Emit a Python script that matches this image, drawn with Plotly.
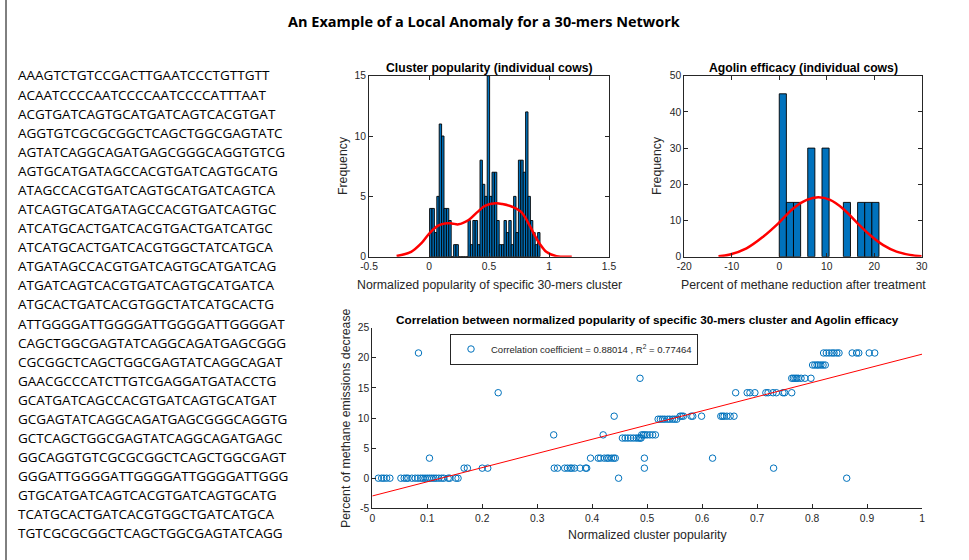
import plotly.graph_objects as go

W, H = 969, 560

# ---------------- data ----------------
dna_lines = [
    "AAAGTCTGTCCGACTTGAATCCCTGTTGTT",
    "ACAATCCCCAATCCCCAATCCCCATTTAAT",
    "ACGTGATCAGTGCATGATCAGTCACGTGAT",
    "AGGTGTCGCGCGGCTCAGCTGGCGAGTATC",
    "AGTATCAGGCAGATGAGCGGGCAGGTGTCG",
    "AGTGCATGATAGCCACGTGATCAGTGCATG",
    "ATAGCCACGTGATCAGTGCATGATCAGTCA",
    "ATCAGTGCATGATAGCCACGTGATCAGTGC",
    "ATCATGCACTGATCACGTGACTGATCATGC",
    "ATCATGCACTGATCACGTGGCTATCATGCA",
    "ATGATAGCCACGTGATCAGTGCATGATCAG",
    "ATGATCAGTCACGTGATCAGTGCATGATCA",
    "ATGCACTGATCACGTGGCTATCATGCACTG",
    "ATTGGGGATTGGGGATTGGGGATTGGGGAT",
    "CAGCTGGCGAGTATCAGGCAGATGAGCGGG",
    "CGCGGCTCAGCTGGCGAGTATCAGGCAGAT",
    "GAACGCCCATCTTGTCGAGGATGATACCTG",
    "GCATGATCAGCCACGTGATCAGTGCATGAT",
    "GCGAGTATCAGGCAGATGAGCGGGCAGGTG",
    "GCTCAGCTGGCGAGTATCAGGCAGATGAGC",
    "GGCAGGTGTCGCGCGGCTCAGCTGGCGAGT",
    "GGGATTGGGGATTGGGGATTGGGGATTGGG",
    "GTGCATGATCAGTCACGTGATCAGTGCATG",
    "TCATGCACTGATCACGTGGCTGATCATGCA",
    "TGTCGCGCGGCTCAGCTGGCGAGTATCAGG",
]

# Panel 1: cluster popularity histogram (bin width 0.02, first edge 0.005)
pop_bin_start = 0.005
pop_bin_width = 0.02
pop_counts = [4, 4, 2, 5, 11, 10, 4, 4, 3, 0, 1, 1, 0, 0, 0, 0,
              3, 1, 3, 3, 1, 8, 6, 5, 15, 5, 7, 7, 3, 1, 1, 3,
              2, 3, 1, 5, 2, 8, 8, 7, 12, 5, 3, 2, 1, 2]
pop_kde_x = [-0.27, -0.149, -0.065, 0.0, 0.076, 0.132, 0.189, 0.245, 0.33, 0.40,
             0.47, 0.555, 0.611, 0.693, 0.766, 0.837, 0.879, 0.921, 0.977, 1.062, 1.19]
pop_kde_y = [0.05, 0.4, 1.1, 1.9, 2.57, 2.76, 2.76, 2.68, 3.04, 3.67,
             4.23, 4.42, 4.36, 4.14, 3.73, 2.62, 1.8, 1.1, 0.41, 0.05, 0.0]
pop_xticks = [-0.5, 0, 0.5, 1, 1.5]
pop_xticklabels = ["-0.5", "0", "0.5", "1", "1.5"]
pop_yticks = [0, 5, 10, 15]

# Panel 2: Agolin efficacy histogram (bin width 1.5)
ago_bin_left = [0, 1.5, 3, 6, 9, 13.5, 16.5, 18, 19.5]
ago_bin_width = 1.5
ago_counts = [45, 15, 15, 30, 30, 15, 15, 15, 15]
ago_fit_x = [-12.8, -10.4, -6.9, -3.4, -0.2, 3.0, 5.8, 8.2, 10.7, 13.5, 16.3, 19.1, 21.9, 24.7, 27.5, 30.0]
ago_fit_y = [0.1, 0.6, 2.3, 5.5, 9.2, 13.4, 15.7, 16.4, 15.7, 13.2, 9.5, 6.0, 3.2, 1.4, 0.5, 0.1]
ago_xticks = [-20, -10, 0, 10, 20, 30]
ago_xticklabels = ["-20", "-10", "0", "10", "20", "30"]
ago_yticks = [0, 10, 20, 30, 40, 50]

# Panel 3: correlation scatter, grouped by methane-decrease level
sc_levels = [0, 1.67, 3.33, 6.67, 7.2, 9.8, 10.3, 14.2, 16.6, 18.8, 20.8]
sc_x_by_level = [
    [0.011, 0.017, 0.021, 0.026, 0.032, 0.052, 0.058, 0.062, 0.065, 0.072, 0.078, 0.083,
     0.088, 0.092, 0.096, 0.100, 0.104, 0.108, 0.112, 0.116, 0.121, 0.126, 0.130, 0.138,
     0.141, 0.152, 0.156, 0.448, 0.863],
    [0.167, 0.173, 0.200, 0.210, 0.331, 0.337, 0.350, 0.355, 0.360, 0.363, 0.368, 0.378,
     0.388, 0.390, 0.495, 0.730],
    [0.104, 0.397, 0.411, 0.415, 0.422, 0.427, 0.430, 0.435, 0.439, 0.442, 0.495, 0.619],
    [0.455, 0.460, 0.465, 0.470, 0.475, 0.480, 0.484, 0.487, 0.489],
    [0.330, 0.420, 0.490, 0.493, 0.496, 0.500, 0.505, 0.510, 0.515],
    [0.520, 0.524, 0.528, 0.532, 0.537, 0.541, 0.546, 0.550, 0.554],
    [0.440, 0.560, 0.563, 0.566, 0.580, 0.583, 0.599, 0.634, 0.637, 0.640, 0.645, 0.651, 0.658],
    [0.229, 0.661, 0.682, 0.687, 0.696, 0.716, 0.720, 0.729, 0.735, 0.747, 0.750, 0.763],
    [0.487, 0.763, 0.766, 0.769, 0.772, 0.775, 0.780, 0.787, 0.798],
    [0.801, 0.805, 0.809, 0.812, 0.816, 0.820, 0.824],
    [0.084, 0.821, 0.826, 0.831, 0.836, 0.840, 0.845, 0.849, 0.873, 0.881, 0.885, 0.904, 0.914],
]
fit_x = [0.0, 1.0]
fit_y = [-2.95, 20.6]
sc_yticks = [-5, 0, 5, 10, 15, 20, 25]
sc_yticklabels = ["-5", "0", "5", "10", "15", "20", "25"]
legend_text = "Correlation coefficient = 0.88014 , R<sup>2</sup> = 0.77464"

# ---------------- figure ----------------
BLUE = "#0072BD"
AX = "#262626"
TICKFONT = dict(family="Liberation Sans, Arial", size=10.3, color=AX)
LABFONT = dict(family="Liberation Sans, Arial", size=12.3, color=AX)
TITFONT = dict(family="Liberation Sans, Arial", size=12.2, color="#000000")
TITFONT3 = dict(family="Liberation Sans, Arial", size=11.8, color="#000000")

fig = go.Figure()

pop_centers = [pop_bin_start + pop_bin_width * (i + 0.5) for i in range(len(pop_counts))]
fig.add_trace(go.Bar(x=pop_centers, y=pop_counts, width=pop_bin_width,
                     marker=dict(color=BLUE, line=dict(color="#000000", width=0.9)),
                     xaxis="x", yaxis="y", showlegend=False, hoverinfo="skip"))
fig.add_trace(go.Scatter(x=pop_kde_x, y=pop_kde_y, mode="lines",
                         line=dict(color="#FF0000", width=2.5, shape="spline"),
                         xaxis="x", yaxis="y", showlegend=False))

ago_centers = [l + ago_bin_width / 2 for l in ago_bin_left]
fig.add_trace(go.Bar(x=ago_centers, y=ago_counts, width=ago_bin_width,
                     marker=dict(color=BLUE, line=dict(color="#000000", width=0.9)),
                     xaxis="x2", yaxis="y2", showlegend=False))
fig.add_trace(go.Scatter(x=ago_fit_x, y=ago_fit_y, mode="lines",
                         line=dict(color="#FF0000", width=2.5, shape="spline"),
                         xaxis="x2", yaxis="y2", showlegend=False))

sc_x, sc_y = [], []
for lvl, xs in zip(sc_levels, sc_x_by_level):
    for xv in xs:
        sc_x.append(xv)
        sc_y.append(lvl)
fig.add_trace(go.Scatter(x=sc_x, y=sc_y, mode="markers", name=legend_text,
                         marker=dict(symbol="circle-open", size=6.5, color=BLUE,
                                     line=dict(width=1, color=BLUE)),
                         xaxis="x3", yaxis="y3", showlegend=True))
fig.add_trace(go.Scatter(x=fit_x, y=fit_y, mode="lines",
                         line=dict(color="#FF0000", width=1),
                         xaxis="x3", yaxis="y3", showlegend=False))


def px_x(p):
    return p / W


def px_y(p):
    return 1 - p / H


def axis(domain, rng, tickvals=None, ticktext=None, dtick=None, anchor=None, mirror="allticks"):
    d = dict(domain=domain, range=rng, showline=True, linecolor=AX, linewidth=1,
             ticks="inside", ticklen=4, tickcolor=AX, tickwidth=1, mirror=mirror,
             showgrid=False, zeroline=False, tickfont=TICKFONT, anchor=anchor,
             fixedrange=True, automargin=False)
    if dtick is not None:
        d["dtick"] = dtick
        d["tick0"] = rng[0]
    if tickvals is not None:
        d["tickmode"] = "array"
        d["tickvals"] = tickvals
        if ticktext is not None:
            d["ticktext"] = ticktext
    return d


p1x = [px_x(369), px_x(609)]
p2x = [px_x(684.3), px_x(921.7)]
p12y = [px_y(256.7), px_y(75.7)]
p3x = [px_x(372.3), px_x(922)]
p3y = [px_y(508.3), px_y(327.7)]

fig.update_layout(
    template="none",
    width=W, height=H, margin=dict(l=0, r=0, t=0, b=0, pad=0, autoexpand=False),
    paper_bgcolor="white", plot_bgcolor="white", bargap=0,
    xaxis=axis(p1x, [-0.5, 1.5], tickvals=pop_xticks, ticktext=pop_xticklabels, anchor="y"),
    yaxis=axis(p12y, [0, 15], tickvals=pop_yticks, anchor="x"),
    xaxis2=axis(p2x, [-20, 30], tickvals=ago_xticks, ticktext=ago_xticklabels, anchor="y2"),
    yaxis2=axis(p12y, [0, 50], tickvals=ago_yticks, anchor="x2"),
    xaxis3=axis(p3x, [0, 1], dtick=0.1, anchor="y3", mirror=False),
    yaxis3=axis(p3y, [-5, 25], tickvals=sc_yticks, ticktext=sc_yticklabels, anchor="x3", mirror=False),
    showlegend=True,
    legend=dict(x=px_x(450), y=px_y(333.5), xanchor="left", yanchor="top",
                bgcolor="white", bordercolor=AX, borderwidth=1,
                font=dict(family="Liberation Sans, Arial", size=9.5, color=AX),
                tracegroupgap=0),
)

ann = []
ann.append(dict(text="<b>An Example of a Local Anomaly for a 30-mers Network</b>",
                x=px_x(484), y=px_y(22), xref="paper", yref="paper", showarrow=False,
                font=dict(family="Open Sans", size=14.5, color="#000000")))
for i, line in enumerate(dna_lines):
    ann.append(dict(text=line, x=px_x(16), y=px_y(75.5 + i * 19.08), xref="paper", yref="paper",
                    xanchor="left", yanchor="middle", showarrow=False,
                    font=dict(family="Open Sans", size=13.5, color="#000000")))
# panel titles / labels
ann += [
    dict(text="<b>Cluster popularity (individual cows)</b>", x=px_x(489), y=px_y(68),
         font=TITFONT),
    dict(text="Normalized popularity of specific 30-mers cluster", x=px_x(489), y=px_y(285),
         font=LABFONT),
    dict(text="Frequency", x=px_x(343), y=px_y(166), textangle=-90, font=LABFONT),
    dict(text="<b>Agolin efficacy (individual cows)</b>", x=px_x(803), y=px_y(68),
         font=TITFONT),
    dict(text="Percent of methane reduction after treatment", x=px_x(803), y=px_y(285),
         font=LABFONT),
    dict(text="Frequency", x=px_x(657), y=px_y(166), textangle=-90, font=LABFONT),
    dict(text="<b>Correlation between normalized popularity of specific 30-mers cluster and Agolin efficacy</b>",
         x=px_x(647), y=px_y(320), font=TITFONT3),
    dict(text="Normalized cluster popularity", x=px_x(647), y=px_y(534.5), font=LABFONT),
    dict(text="Percent of methane emissions decrease", x=px_x(346), y=px_y(418),
         textangle=-90, font=LABFONT),
]
for a in ann:
    a.setdefault("xref", "paper")
    a.setdefault("yref", "paper")
    a.setdefault("showarrow", False)
    a.setdefault("xanchor", "center")
    a.setdefault("yanchor", "middle")
fig.update_layout(annotations=ann)

# figure frame line on the left
fig.add_shape(type="line", xref="paper", yref="paper", x0=px_x(6), x1=px_x(6), y0=0, y1=1,
              line=dict(color="#000000", width=1))

fig.write_html("out.html", config={"displayModeBar": False, "staticPlot": True},
               post_script="document.body.style.margin='0px';document.body.style.overflow='hidden';")
